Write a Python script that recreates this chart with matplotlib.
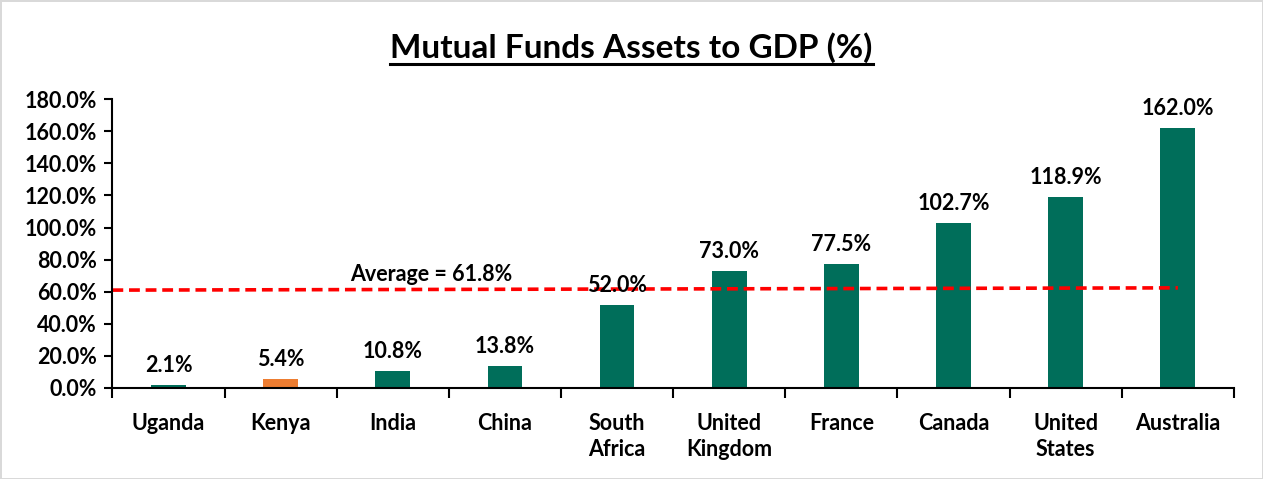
import matplotlib.pyplot as plt
import numpy as np

countries = ['Uganda', 'Kenya', 'India', 'China', 'South\nAfrica', 'United\nKingdom',
             'France', 'Canada', 'United\nStates', 'Australia']
values = [2.1, 5.4, 10.8, 13.8, 52.0, 73.0, 77.5, 102.7, 118.9, 162.0]
average = 61.8
highlight = 'Kenya'

plt.rcParams['font.family'] = ['Lato', 'DejaVu Sans']
plt.rcParams['font.weight'] = 'bold'

green = '#006E5A'
orange = '#ED7D31'
colors = [orange if c == highlight else green for c in countries]

fig = plt.figure(figsize=(12.63, 4.79), dpi=100)
fig.patch.set_edgecolor('#d9d9d9')
fig.patch.set_linewidth(2)
ax = fig.add_axes([0.089, 0.19, 0.888, 0.603])

x = np.arange(len(countries))
ax.bar(x, values, width=0.31, color=colors)

for xi, v in zip(x, values):
    ax.text(xi, v + 5.5, f'{v:.1f}%', ha='center', va='bottom', fontsize=15.5, fontweight='bold')

ax.plot([-0.5, x[-1]], [average - 0.8, average + 0.6], color='#FF0000',
        linestyle=(0, (3, 1.6)), linewidth=2.6)
ax.text(1.62, average + 2.5, f'Average = {average}%', ha='left', va='bottom',
        fontsize=15.5, fontweight='bold')

ax.set_xlim(-0.5, len(countries) - 0.5)
ax.set_ylim(0, 180)
ax.set_yticks(np.arange(0, 181, 20))
ax.set_yticklabels([f'{t:.1f}%' for t in np.arange(0, 181, 20)], fontsize=15.5, fontweight='bold')
ax.set_xticks(x)
ax.set_xticklabels(countries, fontsize=15.5, fontweight='bold')
ax.set_xticks(np.arange(-0.5, len(countries)), minor=True)
ax.tick_params(axis='x', which='major', length=0, pad=18)
ax.tick_params(axis='x', which='minor', length=7, width=1.5, direction='out')
ax.tick_params(axis='y', length=6, width=1.5, direction='out', pad=5)
ax.spines['top'].set_visible(False)
ax.spines['right'].set_visible(False)
ax.spines['left'].set_linewidth(1.5)
ax.spines['bottom'].set_linewidth(1.5)
for lbl in ax.get_xticklabels():
    lbl.set_linespacing(1.3)

title = fig.text(0.5, 0.9, 'Mutual Funds Assets to GDP (%)', ha='center', va='center',
                 fontsize=24, fontweight='bold')
fig.canvas.draw()
bb = title.get_window_extent().transformed(fig.transFigure.inverted())
fig.add_artist(plt.Line2D([bb.x0, bb.x1], [bb.y0 - 0.002, bb.y0 - 0.002],
                          transform=fig.transFigure, color='black', linewidth=2.2))

fig.savefig('out.png', dpi=100)
